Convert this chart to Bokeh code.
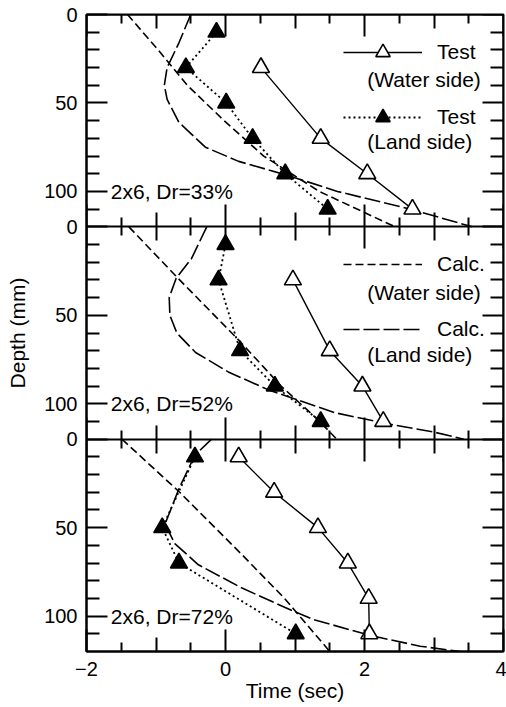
from bokeh.plotting import figure
from bokeh.models import (Range1d, LinearAxis, FixedTicker, ColumnDataSource,
                          Legend, LegendItem, Label)
from bokeh.transform import dodge
from bokeh.embed import file_html
from bokeh.resources import INLINE

FONT = "Liberation Sans"

# ---------------- data (time in sec, depth in mm) ----------------
panel_labels = ["2x6, Dr=33%", "2x6, Dr=52%", "2x6, Dr=72%"]
panel_depth = 120  # depth span of each panel (mm)

# Panel 1 (Dr=33%)
tw1_t = [0.51, 1.37, 2.04, 2.69]
tw1_d = [30, 70, 90, 110]
tl1_t = [-0.13, -0.57, 0.01, 0.39, 0.86, 1.47]
tl1_d = [10, 30, 50, 70, 90, 110]
cw1_t = [-1.41, -0.97, -0.55, -0.02, 0.55, 1.35, 2.44]
cw1_d = [0, 20, 40, 60, 80, 100, 120]
cl1_t = [-0.50, -0.67, -0.84, -0.88, -0.84, -0.67, -0.29, 0.19, 0.90, 1.61, 2.66, 3.55]
cl1_d = [0, 16, 30, 40, 48, 61, 75, 83, 91, 100, 110, 120]

# Panel 2 (Dr=52%)
tw2_t = [0.97, 1.50, 1.97, 2.27]
tw2_d = [30, 70, 90, 110]
tl2_t = [0.00, -0.10, 0.21, 0.71, 1.37]
tl2_d = [10, 30, 70, 90, 110]
cw2_t = [-1.39, -0.66, 0.19, 0.80, 1.33, 1.60]
cw2_d = [0, 30, 64, 90, 109, 120]
cl2_t = [-0.27, -0.49, -0.71, -0.81, -0.80, -0.70, -0.43, 0.04, 0.61, 1.57, 2.29, 3.00, 3.43]
cl2_d = [0, 18, 29, 40, 50, 60, 71, 82, 92, 105, 111, 116, 120]

# Panel 3 (Dr=72%)
tw3_t = [0.19, 0.70, 1.33, 1.76, 2.06, 2.07]
tw3_d = [10, 30, 50, 70, 90, 110]
tl3_t = [-0.44, -0.91, -0.67, 1.01]
tl3_d = [10, 50, 70, 110]
cw3_t = [-1.49, -0.66, 0.23, 0.85, 1.50]
cw3_d = [0, 30, 65, 90, 120]
cl3_t = [-0.20, -0.44, -0.67, -0.81, -0.87, -0.73, -0.39, 0.23, 0.85, 1.27, 2.09, 2.80, 3.37]
cl3_d = [0, 9, 28, 42, 48, 59, 71, 84, 95, 102, 111, 117, 120]

# ticks
x_even = [-2, 0, 2, 4]
x_odd = [-1, 1, 3]
x_half = [-1.5, -0.5, 0.5, 1.5, 2.5, 3.5]
x_tick_labels = {-2: "\u22122", 0: "0", 2: "2", 4: "4"}
depth_major = [0, 50, 100]
depth_minor = [10, 20, 30, 40, 60, 70, 80, 90, 110]
depth_tick_labels = ["0", "50", "100"]

panels = [
    dict(tw=(tw1_t, tw1_d), tl=(tl1_t, tl1_d), cw=(cw1_t, cw1_d), cl=(cl1_t, cl1_d)),
    dict(tw=(tw2_t, tw2_d), tl=(tl2_t, tl2_d), cw=(cw2_t, cw2_d), cl=(cl2_t, cl2_d)),
    dict(tw=(tw3_t, tw3_d), tl=(tl3_t, tl3_d), cw=(cw3_t, cw3_d), cl=(cl3_t, cl3_d)),
]
n_panels = len(panels)
total = panel_depth * n_panels

# ---------------- figure ----------------
p = figure(width=506, height=707, x_range=Range1d(-2, 4), y_range=Range1d(total, 0),
           output_backend="svg", toolbar_location=None,
           min_border_left=86, min_border_right=3, min_border_top=14, min_border_bottom=56)
p.xgrid.visible = False
p.ygrid.visible = False
p.outline_line_color = "black"
p.outline_line_width = 2
p.background_fill_color = "white"

# left (labelled) depth axis
y_major, y_minor, y_over = [], [], {}
for i in range(n_panels):
    off = i * panel_depth
    for v, lab in zip(depth_major, depth_tick_labels):
        y_major.append(v + off)
        y_over[v + off] = lab
    y_minor += [v + off for v in depth_minor]


def style_y(ax):
    ax.ticker = FixedTicker(ticks=y_major, minor_ticks=y_minor)
    ax.major_tick_in = 21
    ax.major_tick_out = 0
    ax.minor_tick_in = 13
    ax.minor_tick_out = 0
    ax.axis_line_width = 2
    ax.major_tick_line_width = 2
    ax.minor_tick_line_width = 2


yax = p.yaxis[0]
style_y(yax)
yax.major_label_overrides = y_over
yax.major_label_text_font = FONT
yax.major_label_text_font_size = "20px"
yax.major_label_text_color = "black"
yax.major_label_standoff = 9
yax.axis_label = "Depth (mm)"
yax.axis_label_text_font = FONT
yax.axis_label_text_font_size = "21px"
yax.axis_label_text_font_style = "normal"
yax.axis_label_text_color = "black"
yax.axis_label_standoff = 12

yr = LinearAxis(fixed_location=4)
style_y(yr)
yr.major_label_overrides = {v: "" for v in y_major}
yr.major_label_text_alpha = 0
p.add_layout(yr, "right")


def style_x(ax, ticks, minors, tin, tout, min_in, min_out, line=True):
    ax.ticker = FixedTicker(ticks=ticks, minor_ticks=minors)
    ax.major_tick_in = tin
    ax.major_tick_out = tout
    ax.minor_tick_in = min_in
    ax.minor_tick_out = min_out
    ax.major_tick_line_width = 2
    ax.minor_tick_line_width = 2
    if line:
        ax.axis_line_width = 2
    else:
        ax.axis_line_color = None


# main bottom axis with labels
xax = p.xaxis[0]
style_x(xax, x_even, x_half, 22, 0, 9, 0)
xax.major_label_overrides = x_tick_labels
xax.major_label_text_font = FONT
xax.major_label_text_font_size = "20px"
xax.major_label_text_color = "black"
xax.major_label_standoff = 10
xax.axis_label = "Time (sec)"
xax.axis_label_text_font = FONT
xax.axis_label_text_font_size = "21px"
xax.axis_label_text_font_style = "normal"
xax.axis_label_text_color = "black"
xax.axis_label_standoff = 0

# odd-second ticks on the bottom edge
xb_odd = LinearAxis(fixed_location=total)
style_x(xb_odd, x_odd, [], 14, 0, 0, 0, line=False)
xb_odd.major_label_overrides = {v: "" for v in x_odd}
xb_odd.major_label_text_alpha = 0
p.add_layout(xb_odd, "below")

# top edge and the panel boundaries
for i in range(n_panels):
    loc = i * panel_depth
    side = "above" if i == 0 else "below"
    out = 0 if i == 0 else 1
    a = LinearAxis(fixed_location=loc)
    style_x(a, x_even, x_half, 22, 22 * out, 9, 9 * out)
    a.major_label_overrides = {v: "" for v in x_even}
    a.major_label_text_alpha = 0
    p.add_layout(a, side)
    b = LinearAxis(fixed_location=loc)
    style_x(b, x_odd, [], 14, 14 * out, 0, 0, line=False)
    b.major_label_overrides = {v: "" for v in x_odd}
    b.major_label_text_alpha = 0
    p.add_layout(b, side)

# ---------------- series ----------------
legend_refs = {}
for i, pan in enumerate(panels):
    off = i * panel_depth
    ycol = dodge("d", off)

    t, d = pan["cw"]
    s = ColumnDataSource(dict(t=t, d=d))
    r_cw = p.line("t", ycol, source=s, line_color="black", line_width=1.6, line_dash="8 4")

    t, d = pan["cl"]
    s = ColumnDataSource(dict(t=t, d=d))
    r_cl = p.line("t", ycol, source=s, line_color="black", line_width=1.6, line_dash="16 4")

    t, d = pan["tl"]
    s = ColumnDataSource(dict(t=t, d=d))
    r_tl_l = p.line("t", ycol, source=s, line_color="black", line_width=1.8, line_dash="2 3")
    r_tl_s = p.scatter("t", ycol, source=s, marker="triangle", size=17,
                       fill_color="black", line_color="black", line_width=1.5)

    t, d = pan["tw"]
    s = ColumnDataSource(dict(t=t, d=d))
    r_tw_l = p.line("t", ycol, source=s, line_color="black", line_width=1.4)
    r_tw_s = p.scatter("t", ycol, source=s, marker="triangle", size=17,
                       fill_color="white", line_color="black", line_width=1.6)
    if i == 0:
        legend_refs = dict(tw=[r_tw_l, r_tw_s], tl=[r_tl_l, r_tl_s], cw=[r_cw], cl=[r_cl])

    p.add_layout(Label(x=-1.65, y=100 + off, text=panel_labels[i], text_baseline="middle",
                       text_font=FONT, text_font_size="21px", text_color="black"))


def make_legend(items, loc):
    lg = Legend(items=items, location=loc, glyph_width=79, glyph_height=36,
                label_height=22, label_standoff=15, spacing=29, padding=0, margin=0,
                border_line_color=None, background_fill_alpha=0,
                label_text_font=FONT, label_text_font_size="21px", label_text_color="black")
    return lg


leg1 = make_legend([LegendItem(label="Test", renderers=legend_refs["tw"]),
                    LegendItem(label="Test", renderers=legend_refs["tl"])], (257, 516))
leg2 = make_legend([LegendItem(label="Calc.", renderers=legend_refs["cw"]),
                    LegendItem(label="Calc.", renderers=legend_refs["cl"])], (257, 304))
p.add_layout(leg1)
p.add_layout(leg2)

for (txt, yy) in [("(Water side)", 37), ("(Land side)", 72),
                  ("(Water side)", 157), ("(Land side)", 192)]:
    p.add_layout(Label(x=2.04, y=yy, text=txt, text_baseline="middle",
                       text_font=FONT, text_font_size="21px", text_color="black"))

open("out.html", "w").write(file_html(p, INLINE))
